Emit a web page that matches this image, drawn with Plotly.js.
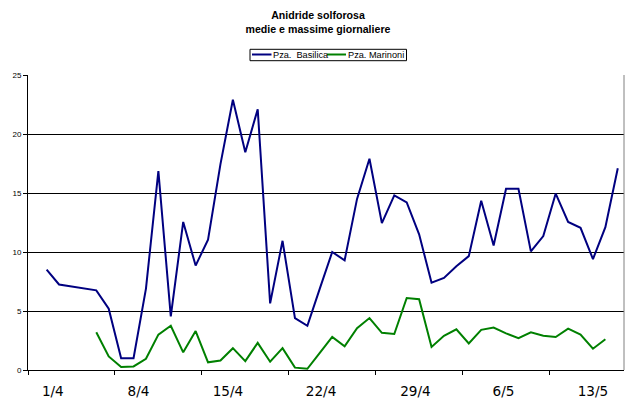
<!DOCTYPE html>
<html>
<head>
<meta charset="utf-8">
<script src="https://cdn.plot.ly/plotly-3.0.1.min.js"></script>
<style>html,body{margin:0;padding:0;background:#fff;}#chart{width:626px;height:398px;}</style>
</head>
<body>
<div id="chart"></div>
<script>
// Categories: one per day, 31/3 .. 17/5
var days = ['31/3','1/4','2/4','3/4','4/4','5/4','6/4','7/4','8/4','9/4','10/4','11/4','12/4','13/4','14/4','15/4',
  '16/4','17/4','18/4','19/4','20/4','21/4','22/4','23/4','24/4','25/4','26/4','27/4','28/4','29/4','30/4',
  '1/5','2/5','3/5','4/5','5/5','6/5','7/5','8/5','9/5','10/5','11/5','12/5','13/5','14/5','15/5','16/5','17/5'];

var basilica = [null, 8.5, 7.25, null, null, 6.75, 5.2, 1.0, 1.0, 6.9, 16.85, 4.55, 12.55, 8.85, 11.05, 17.45,
  22.9, 18.45, 22.1, 5.65, 10.95, 4.4, 3.75, 6.9, 10.0, 9.3, 14.5, 17.9, 12.45, 14.8, 14.2,
  11.5, 7.4, 7.8, 8.8, 9.65, 14.35, 10.55, 15.35, 15.35, 10.05, 11.35, 14.95, 12.55, 12.05, 9.4, 12.1, 17.1];

var marinoni = [null, null, null, null, null, 3.2, 1.15, 0.25, 0.3, 0.95, 3.0, 3.75, 1.5, 3.3, 0.65, 0.8,
  1.85, 0.75, 2.3, 0.7, 1.85, 0.2, 0.1, 1.45, 2.8, 2.0, 3.55, 4.4, 3.15, 3.05, 6.1,
  6.0, 1.95, 2.9, 3.45, 2.25, 3.4, 3.6, 3.1, 2.7, 3.2, 2.9, 2.8, 3.5, 3.0, 1.8, 2.6, null];

var tickLabels = ['1/4','8/4','15/4','22/4','29/4','6/5','13/5'];
var seriesNames = ['Pza.\u00a0 Basilica', 'Pza. Marinoni'];
var seriesColors = ['#000080', '#008000'];

var xIdx = days.map(function(d, i){ return i; });

var traces = [
  {x: xIdx, y: basilica, name: seriesNames[0], type: 'scatter', mode: 'lines', connectgaps: true,
   line: {color: seriesColors[0], width: 2}, hoverinfo: 'skip', showlegend: false},
  {x: xIdx, y: marinoni, name: seriesNames[1], type: 'scatter', mode: 'lines', connectgaps: false,
   line: {color: seriesColors[1], width: 2}, hoverinfo: 'skip', showlegend: false},
  // invisible trace to carry the label axis
  {x: [0], y: [null], xaxis: 'x2', showlegend: false, mode: 'lines', hoverinfo: 'skip'}
];

var font = 'Liberation Sans, Arial, sans-serif';

// plot area in pixels: x 28..624, y 75..370 -> helpers to place the legend box
var PL = 28, PW = 596, PB = 370, PH = 295;
function px(v){ return (v - PL) / PW; }
function py(v){ return (PB - v) / PH; }

var legendShapes = [
  {type: 'rect', xref: 'paper', yref: 'paper', x0: px(250), x1: px(406.5), y0: py(60.7), y1: py(49.3),
   line: {color: '#000', width: 1}, fillcolor: '#fff', layer: 'above'},
  {type: 'line', xref: 'paper', yref: 'paper', x0: px(252), x1: px(271.5), y0: py(54.5), y1: py(54.5),
   line: {color: seriesColors[0], width: 2}, layer: 'above'},
  {type: 'line', xref: 'paper', yref: 'paper', x0: px(327), x1: px(346), y0: py(54.5), y1: py(54.5),
   line: {color: seriesColors[1], width: 2}, layer: 'above'}
];
var legendAnn = [
  {xref: 'paper', yref: 'paper', x: px(272.3), y: py(55), xanchor: 'left', yanchor: 'middle',
   text: seriesNames[0], showarrow: false, borderpad: 0, font: {family: font, size: 9.2, color: '#000'}},
  {xref: 'paper', yref: 'paper', x: px(346.5), y: py(55), xanchor: 'left', yanchor: 'middle',
   text: seriesNames[1], showarrow: false, borderpad: 0, font: {family: font, size: 9.2, color: '#000'}}
];

var layout = {
  width: 626, height: 398,
  margin: {l: 28, r: 2, t: 75, b: 28, pad: 0},
  paper_bgcolor: '#fff', plot_bgcolor: '#fff',
  title: {
    text: 'Anidride solforosa<br>medie e massime giornaliere',
    font: {family: font, size: 10.6, color: '#000', weight: 'bold'},
    xref: 'container', x: 318/626, xanchor: 'center',
    yref: 'container', y: 1 - 19/398, yanchor: 'top'
  },
  showlegend: false,
  xaxis: {
    type: 'linear', range: [-0.5, 47.5], fixedrange: true,
    showgrid: false, zeroline: false,
    showline: true, linecolor: '#000', linewidth: 1,
    ticks: 'outside', ticklen: 4, tickcolor: '#000', tickwidth: 1,
    tickmode: 'array', tickvals: [-0.5, 6.5, 13.5, 20.5, 27.5, 34.5, 41.5],
    showticklabels: false
  },
  xaxis2: {
    overlaying: 'x', type: 'linear', range: [-0.5, 47.5], fixedrange: true,
    showgrid: false, zeroline: false, showline: false,
    ticks: 'outside', ticklen: 9, tickcolor: 'rgba(0,0,0,0)',
    tickmode: 'array', tickvals: [1.5, 8.4, 15.6, 23.1, 30.7, 37.8, 45.0], ticktext: tickLabels,
    tickfont: {family: 'DejaVu Sans, Verdana, sans-serif', size: 13.6, color: '#000'}
  },
  yaxis: {
    range: [0, 25], dtick: 5, tick0: 0, fixedrange: true,
    showgrid: true, gridcolor: '#000', gridwidth: 1,
    zeroline: false, showline: true, linecolor: '#000', linewidth: 1,
    ticks: 'outside', ticklen: 4, tickcolor: '#000',
    tickfont: {family: font, size: 8, color: '#000'}
  },
  shapes: [
    {type: 'line', xref: 'paper', yref: 'paper', x0: 1, x1: 1, y0: 0, y1: 1,
     line: {color: '#808080', width: 1}}
  ].concat(legendShapes),
  annotations: legendAnn
};

Plotly.newPlot('chart', traces, layout, {staticPlot: true, displayModeBar: false});
</script>
</body>
</html>
